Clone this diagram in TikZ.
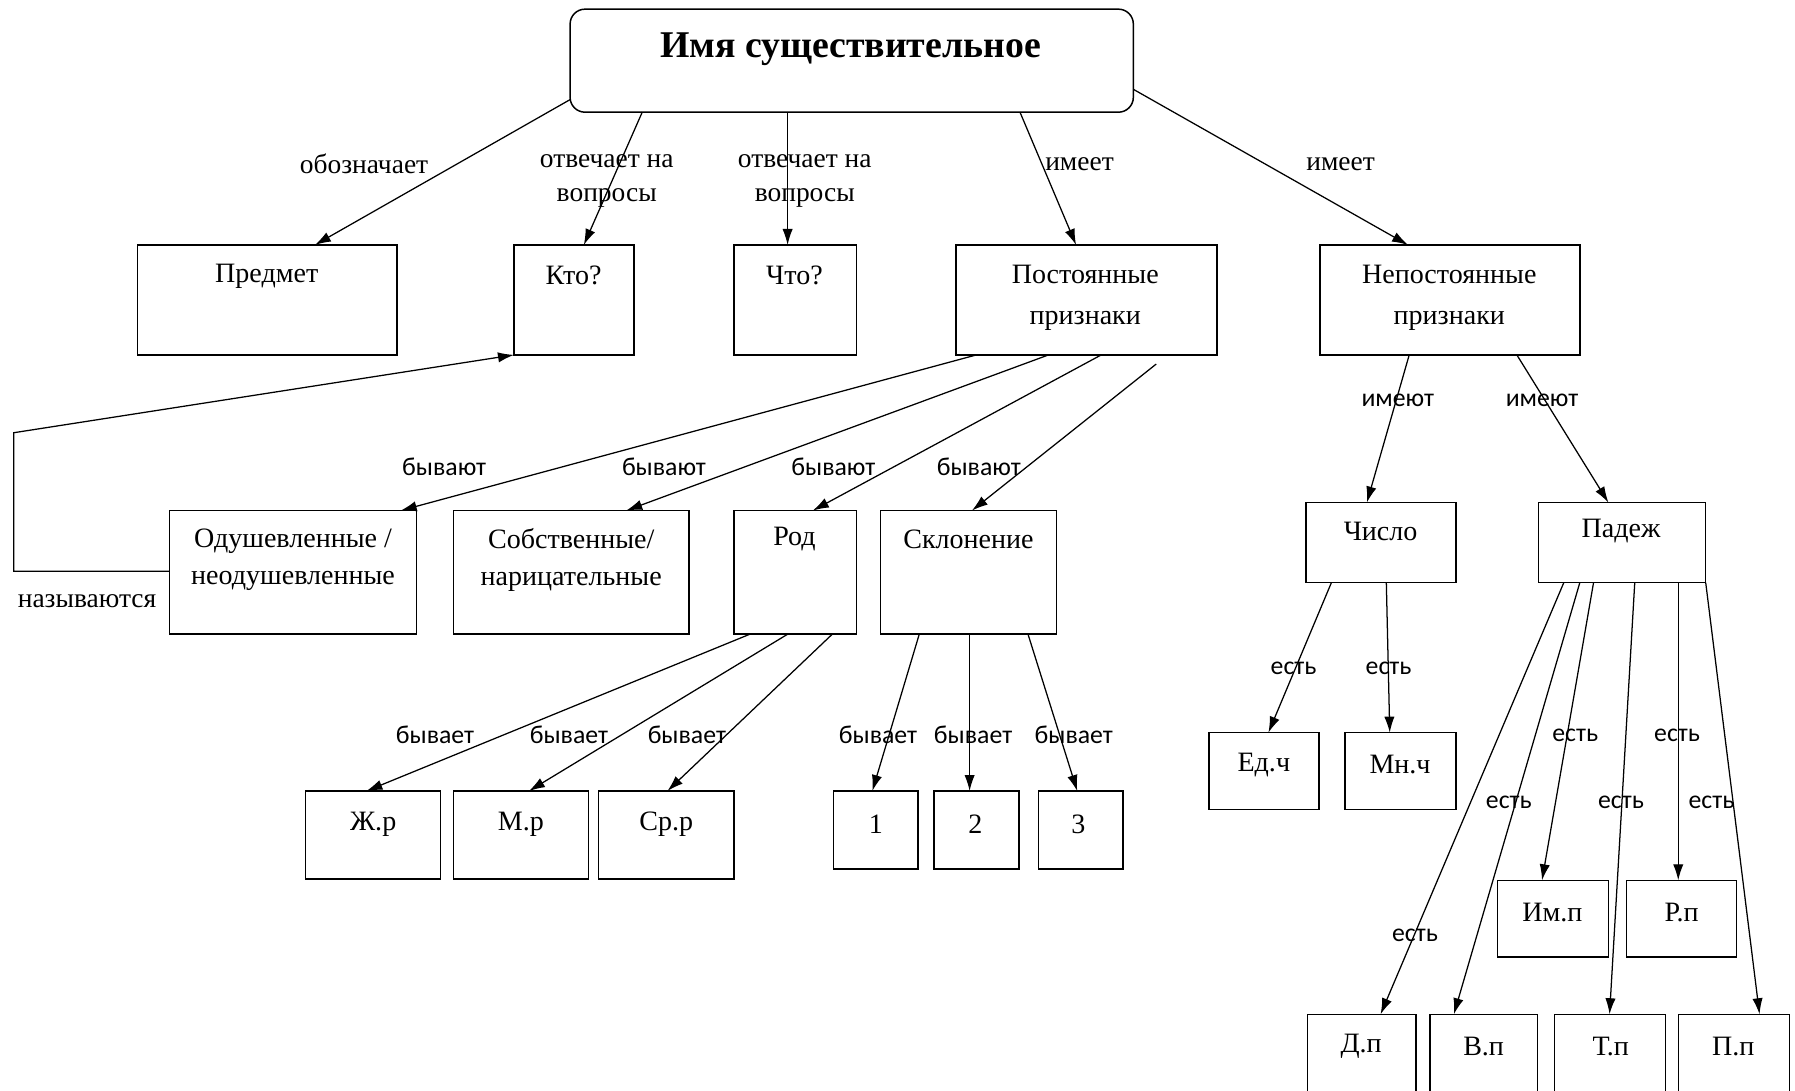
\documentclass[tikz,border=0pt]{standalone}
\usepackage{fontspec}
\setmainfont{Liberation Serif}
\newfontfamily\sansf{Carlito}
\usetikzlibrary{arrows.meta,calc}
\tikzset{
  boxst/.style={draw, line width=1.3pt, rectangle, inner sep=0pt, outer sep=0pt},
  bt/.style={inner sep=0pt, align=center, yshift=-2pt, font=\fontsize{24.5}{36}\selectfont},
  sl/.style={inner sep=0pt, align=center, font=\fontsize{24}{30}\selectfont},
  ss/.style={inner sep=0pt, font=\sansf\fontsize{22.5}{25}\selectfont},
  arr/.style={line width=1.1pt, -{Latex[length=14pt,width=9pt]}}
}
\newcommand\bx[5]{\node[boxst, minimum width={(#4-#2)*1pt}, minimum height={(#5-#3)*1pt}] (#1) at ({(#2+#4)/2},{(#3+#5)/2}) {};}
\begin{document}
\begin{tikzpicture}[x=1pt,y=-1pt]
\useasboundingbox (0,0) rectangle (1568,953);
\clip (0,0) rectangle (1568,953);
\fill[white] (0,0) rectangle (1568,953);
% title
\node[boxst, rounded corners=13pt, minimum width=492pt, minimum height=90pt] (title) at (744,53) {};
\node[inner sep=0pt, font=\bfseries\fontsize{33}{36}\selectfont] (titlet) at (743,43) {Имя существительное};
% boxes
\bx{predmet}{120}{214}{347}{310}
\bx{kto}{449}{214}{554}{310}
\bx{chto}{641}{214}{748}{310}
\bx{post}{835}{214}{1063}{310}
\bx{nepost}{1153}{214}{1380}{310}
\bx{odush}{148}{446}{364}{554}
\bx{sobst}{396}{446}{602}{554}
\bx{rod}{641}{446}{748}{554}
\bx{sklon}{769}{446}{923}{554}
\bx{zhr}{267}{691}{385}{768}
\bx{mr}{396}{691}{514}{768}
\bx{srr}{523}{691}{641}{768}
\bx{sa}{728}{691}{802}{759}
\bx{sb}{816}{691}{890}{759}
\bx{sc}{907}{691}{981}{759}
\bx{chislo}{1141}{439}{1272}{509}
\bx{padezh}{1344}{439}{1490}{509}
\bx{ed}{1056}{640}{1152}{707}
\bx{mn}{1175}{640}{1272}{707}
\bx{im}{1308}{769}{1405}{836}
\bx{rp}{1421}{769}{1517}{836}
\bx{dp}{1142}{886}{1237}{975}
\bx{vp}{1249}{886}{1343}{975}
\bx{tp}{1358}{886}{1455}{975}
\bx{pp}{1466}{886}{1563}{975}
% box texts
\node[bt] (t1) at (233,239) {Предмет};
\node[bt] (t2) at (501,239) {Кто?};
\node[bt] (t3) at (694,239) {Что?};
\node[bt] (t4) at (948,258) {Постоянные\\признаки};
\node[bt] (t5) at (1266,258) {Непостоянные\\признаки};
\node[bt, font=\fontsize{24.5}{32}\selectfont] (t6) at (256,487) {Одушевленные /\\неодушевленные};
\node[bt, font=\fontsize{24.5}{32}\selectfont] (t7) at (499,487) {Собственные/\\нарицательные};
\node[bt] (t8) at (694,469) {Род};
\node[bt] (t9) at (846,469) {Склонение};
\node[bt] (t10) at (326,718) {Ж.р};
\node[bt] (t11) at (455,718) {М.р};
\node[bt] (t12) at (582,718) {Ср.р};
\node[bt] (t13) at (765,718) {1};
\node[bt] (t14) at (852,718) {2};
\node[bt] (t15) at (942,718) {3};
\node[bt] (t16) at (1206,462) {Число};
\node[bt] (t17) at (1416,462) {Падеж};
\node[bt] (t18) at (1104,666) {Ед.ч};
\node[bt] (t19) at (1223,666) {Мн.ч};
\node[bt] (t20) at (1356,795) {Им.п};
\node[bt] (t21) at (1469,795) {Р.п};
\node[bt] (t22) at (1189,912) {Д.п};
\node[bt] (t23) at (1296,912) {В.п};
\node[bt] (t24) at (1407,912) {Т.п};
\node[bt] (t25) at (1514,912) {П.п};
% arrows from title
\draw[arr] ($(title.north west)+(0,79)$) -- ($(predmet.north west)+(155,0)$);
\draw[arr] ($(title.north west)+(63,90)$) -- ($(kto.north west)+(61,0)$);
\draw[arr] ($(title.north west)+(190,90)$) -- ($(chto.north west)+(47,0)$);
\draw[arr] ($(title.north west)+(393,90)$) -- ($(post.north west)+(105,0)$);
\draw[arr] ($(title.north west)+(492,70)$) -- ($(nepost.north west)+(77,0)$);
% from Постоянные
\draw[arr] ($(post.north west)+(18,96)$) -- ($(odush.north west)+(202,0)$);
\draw[arr] ($(post.north west)+(81,96)$) -- ($(sobst.north west)+(151,0)$);
\draw[arr] ($(post.north west)+(127,96)$) -- ($(rod.north west)+(69,0)$);
\draw[arr] ($(post.north west)+(175,104)$) -- ($(sklon.north west)+(80,0)$);
% называются
\draw[arr] ($(odush.north west)+(0,53)$) -- ++(-136,0) -- ++(0,-121) -- (kto.south west);
% from Род
\draw[arr] ($(rod.north west)+(14,108)$) -- ($(zhr.north west)+(53,0)$);
\draw[arr] ($(rod.north west)+(47,108)$) -- ($(mr.north west)+(66,0)$);
\draw[arr] ($(rod.north west)+(86,108)$) -- ($(srr.north west)+(60,0)$);
% from Склонение
\draw[arr] ($(sklon.north west)+(34,108)$) -- ($(sa.north west)+(34,0)$);
\draw[arr] ($(sklon.north west)+(78,108)$) -- ($(sb.north west)+(31,0)$);
\draw[arr] ($(sklon.north west)+(129,108)$) -- ($(sc.north west)+(34,0)$);
% from Непостоянные
\draw[arr] ($(nepost.north west)+(78,96)$) -- ($(chislo.north west)+(53,0)$);
\draw[arr] ($(nepost.north west)+(172,96)$) -- ($(padezh.north west)+(61,0)$);
% from Число
\draw[arr] ($(chislo.north west)+(22,70)$) -- ($(ed.north west)+(52,0)$);
\draw[arr] ($(chislo.north west)+(70,70)$) -- ($(mn.north west)+(39,0)$);
% from Падеж
\draw[arr] ($(padezh.north west)+(22,70)$) -- ($(dp.north west)+(64,0)$);
\draw[arr] ($(padezh.north west)+(36,70)$) -- ($(vp.north west)+(21,0)$);
\draw[arr] ($(padezh.north west)+(48,70)$) -- ($(im.north west)+(39,0)$);
\draw[arr] ($(padezh.north west)+(84,70)$) -- ($(tp.north west)+(48,0)$);
\draw[arr] ($(padezh.north west)+(122,70)$) -- ($(rp.north west)+(45,0)$);
\draw[arr] ($(padezh.north west)+(146,70)$) -- ($(pp.north west)+(71,0)$);
% labels serif
\node[sl] (l1) at (318,143) {обозначает};
\node[sl] (l2) at (530,158) {отвечает на\\вопросы};
\node[sl] (l3) at (703,158) {отвечает на\\вопросы};
\node[sl] (l4) at (943,143) {имеет};
\node[sl] (l5) at (1171,143) {имеет};
\node[sl] (l6) at (76,525) {называются};
% labels sans
\node[ss] (m1) at (388,408) {бывают};
\node[ss] (m2) at (580,408) {бывают};
\node[ss] (m3) at (728,408) {бывают};
\node[ss] (m4) at (855,408) {бывают};
\node[ss] (m5) at (1221,350) {имеют};
\node[ss] (m6) at (1347,350) {имеют};
\node[ss] (m7) at (1130,584) {есть};
\node[ss] (m8) at (1213,584) {есть};
\node[ss] (m9) at (380,642) {бывает};
\node[ss] (m10) at (497,642) {бывает};
\node[ss] (m11) at (600,642) {бывает};
\node[ss] (m12) at (767,642) {бывает};
\node[ss] (m13) at (850,642) {бывает};
\node[ss] (m14) at (938,642) {бывает};
\node[ss] (m15) at (1376,642) {есть};
\node[ss] (m16) at (1465,642) {есть};
\node[ss] (m17) at (1318,701) {есть};
\node[ss] (m18) at (1416,701) {есть};
\node[ss] (m19) at (1495,701) {есть};
\node[ss] (m20) at (1236,817) {есть};
\end{tikzpicture}
\end{document}
